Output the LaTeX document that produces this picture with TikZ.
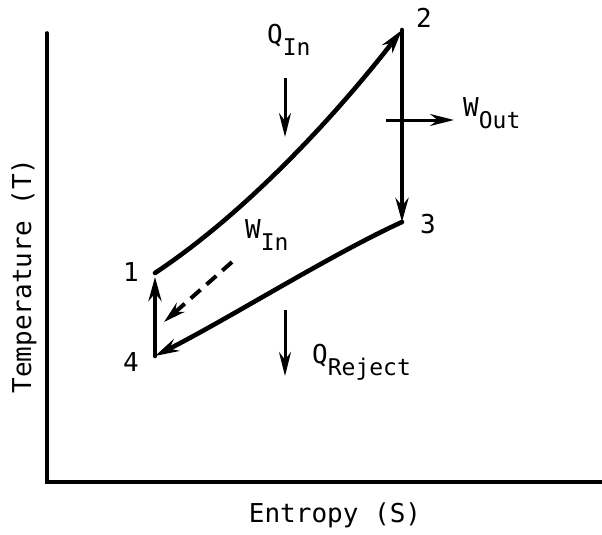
\documentclass[tikz,border=0pt]{standalone}
\usepackage{fontspec}
\setmainfont{DejaVu Sans Mono}
\usetikzlibrary{arrows.meta}
\tikzset{
  axisline/.style={line width=3.6pt, line cap=round},
  cycleline/.style={line width=4.6pt, line cap=round},
  cyclearrow/.style={cycleline, -{Stealth[length=24pt, width=13pt]}},
  heatarrow/.style={line width=3pt, -{Stealth[length=24pt, width=12pt]}},
  workarrow/.style={line width=4pt, dash pattern=on 13pt off 8pt,
    -{Stealth[length=22pt, width=12pt]}},
  ptlabel/.style={font=\fontsize{26}{26}\selectfont},
  flowlabel/.style={font=\fontsize{26}{26}\selectfont, anchor=west, inner sep=0pt},
  axislabel/.style={font=\fontsize{26}{26}\selectfont}
}
\newcommand{\flowsub}[2]{#1\raisebox{-0.45em}{\fontsize{23}{23}\selectfont #2}}

\begin{document}
\begin{tikzpicture}[x=1pt, y=-1pt]
  \useasboundingbox (0,0) rectangle (602,535);

  % Axes
  \coordinate (top) at (47,33);
  \coordinate (origin) at (47,482);
  \coordinate (right) at (602,482);
  \draw[axisline] (top) -- (origin) -- (right);
  \node[axislabel, rotate=90] (tlabel) at (24,276) {Temperature (T)};
  \node[axislabel] (slabel) at (335,515) {Entropy (S)};

  % Cycle state points
  \coordinate (p1) at (155,273);
  \coordinate (p2) at (402,30);
  \coordinate (p3) at (402,222);
  \coordinate (p4) at (155,356);
  \node[ptlabel] (n1) at (131,272) {1};
  \node[ptlabel] (n2) at (424,18) {2};
  \node[ptlabel] (n3) at (428,224) {3};
  \node[ptlabel] (n4) at (131,362) {4};

  % Cycle: 1-2 heat in, 2-3 expansion, 3-4 heat out, 4-1 compression
  \draw[cyclearrow] (p1) .. controls (250,210) and (340,110) .. (p2);
  \draw[cyclearrow] (p2) -- (p3);
  \draw[cyclearrow] (p3) .. controls (330,255) and (230,318) .. (p4);
  \draw[cyclearrow, shorten >=4pt] (p4) -- (p1);

  % Heat and work arrows
  \coordinate (qin0) at (285,78);   \coordinate (qin1) at (285,137);
  \coordinate (wout0) at (386,120); \coordinate (wout1) at (454,120);
  \coordinate (qrej0) at (285,310); \coordinate (qrej1) at (285,376);
  \coordinate (win0) at (232,262);  \coordinate (win1) at (164,322);
  \draw[heatarrow] (qin0) -- (qin1);
  \draw[heatarrow] (wout0) -- (wout1);
  \draw[heatarrow] (qrej0) -- (qrej1);
  \draw[workarrow] (win0) -- (win1);

  \node[flowlabel] (qin) at (267,40) {\flowsub{Q}{In}};
  \node[flowlabel] (wout) at (463,113) {\flowsub{W}{Out}};
  \node[flowlabel] (win) at (245,235) {\flowsub{W}{In}};
  \node[flowlabel] (qrej) at (312,362) {\flowsub{Q}{Reject}};
\end{tikzpicture}
\end{document}
